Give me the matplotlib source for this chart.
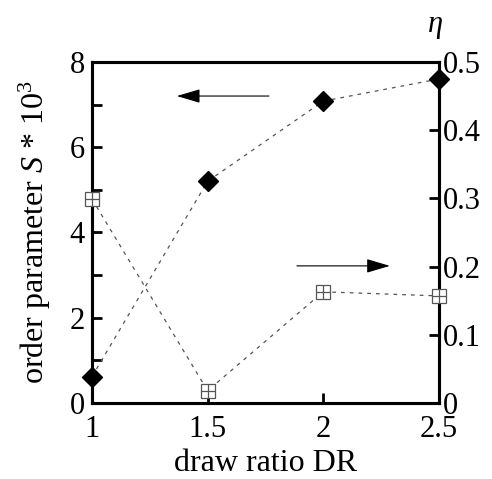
import matplotlib
matplotlib.use("Agg")
import matplotlib.pyplot as plt
from matplotlib.ticker import MultipleLocator

plt.rcParams['font.family'] = ['Liberation Serif', 'DejaVu Serif']
plt.rcParams['mathtext.fontset'] = 'custom'
plt.rcParams['mathtext.rm'] = 'Liberation Serif'
plt.rcParams['mathtext.it'] = 'Liberation Serif:italic'

draw_ratio = [1.0, 1.5, 2.0, 2.5]
order_param = [0.62, 5.2, 7.08, 7.6]
eta = [0.299, 0.018, 0.163, 0.157]

FS = 22
LFS = 23

fig = plt.figure(figsize=(4.92, 4.79), dpi=100)
ax = fig.add_axes([0.187, 0.1587, 0.705, 0.712])
ax2 = ax.twinx()

ax.plot(draw_ratio, order_param, ls=(0, (3, 4)), color='#555555', lw=0.9,
        marker='D', ms=10, mfc='black', mec='black', zorder=3, clip_on=False)
ax2.plot(draw_ratio, eta, ls=(0, (3, 4)), color='#555555', lw=0.9,
         marker='s', ms=10, mfc='white', mec='#555555', mew=0.9, zorder=3, clip_on=False)
ax2.plot(draw_ratio, eta, ls='none', marker='+', ms=10, mec='#555555', mew=0.9,
         zorder=4, clip_on=False)

ax.set_xlim(1, 2.5)
ax.set_ylim(0, 8)
ax2.set_ylim(0, 0.5)

ax.set_xticks([1, 1.5, 2, 2.5])
ax.set_xticklabels(['1', '1.5', '2', '2.5'])
ax.yaxis.set_major_locator(MultipleLocator(2))
ax.yaxis.set_minor_locator(MultipleLocator(1))
ax2.set_yticks([0, 0.1, 0.2, 0.3, 0.4, 0.5])
ax2.set_yticklabels(['0', '0.1', '0.2', '0.3', '0.4', '0.5'])

for a in (ax, ax2):
    for s in a.spines.values():
        s.set_linewidth(2.2)
ax.tick_params(axis='x', which='both', direction='in', length=7, width=2,
               labelsize=FS, pad=9)
ax.tick_params(axis='y', which='both', direction='in', length=7, width=2,
               labelsize=FS, pad=5)
ax2.tick_params(axis='y', direction='in', length=7, width=2, labelsize=FS, pad=3)

ax.set_xlabel('draw ratio DR', fontsize=LFS, labelpad=3)
ax.set_ylabel(r'order parameter $S$ * 10$^3$', fontsize=LFS, labelpad=12)
fig.text(0.884, 0.945, r'$\eta$', fontsize=FS, ha='center', va='center')

ax.annotate('', xy=(1.367, 7.2), xytext=(1.765, 7.2),
            arrowprops=dict(arrowstyle='-|>,head_length=1.45,head_width=0.43',
                            color='black', lw=0.8, shrinkA=0, shrinkB=0))
ax2.annotate('', xy=(2.288, 0.201), xytext=(1.886, 0.201),
             arrowprops=dict(arrowstyle='-|>,head_length=1.45,head_width=0.43',
                             color='black', lw=0.8, shrinkA=0, shrinkB=0))

fig.savefig('out.png', dpi=100)
